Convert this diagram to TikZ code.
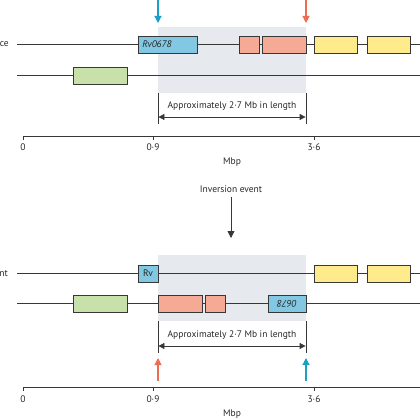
\documentclass[tikz,border=0pt]{standalone}
\usepackage{fontspec}
\setmainfont{PT Sans}
\usetikzlibrary{arrows.meta}
\definecolor{lineg}{RGB}{55,55,55}
\definecolor{shadeg}{RGB}{230,233,237}
\definecolor{geneblue}{RGB}{130,200,226}
\definecolor{geneorange}{RGB}{245,170,150}
\definecolor{geneyellow}{RGB}{255,234,140}
\definecolor{genegreen}{RGB}{200,225,170}
\definecolor{arrblue}{RGB}{25,160,200}
\definecolor{arrorange}{RGB}{235,110,80}
\tikzset{
  gene/.style={draw=lineg, line width=0.7pt, minimum height=17pt, inner sep=0pt},
  chrom/.style={draw=lineg, line width=0.8pt},
  marker/.style={line width=1.2pt, -{Triangle[length=7pt,width=7pt]}},
  dimarrow/.style={draw=lineg, line width=0.8pt, {Triangle[length=6pt,width=6pt]}-{Triangle[length=6pt,width=6pt]}},
  bar/.style={draw=lineg, line width=0.8pt},
  lbl/.style={inner sep=0pt, text=black!85}
}
\begin{document}
\begin{tikzpicture}[x=1pt,y=-1pt,font=\fontsize{9.5}{11}\selectfont]
\useasboundingbox (0,0) rectangle (420,420);
% ---------- top ----------
\fill[shadeg] (158,27) rectangle (306,93);
\coordinate (l1a) at (17,44.5); \coordinate (l1b) at (420,44.5);
\coordinate (l2a) at (17,75.5); \coordinate (l2b) at (420,75.5);
\draw[chrom] (l1a) -- (l1b);
\draw[chrom] (l2a) -- (l2b);
\node[lbl, anchor=east] (ref) at (9,44.5) {ce};
\node[gene, fill=geneblue, minimum width=59pt] (rv) at (167.5,44.5) {};
\node[lbl, anchor=west] (rvt) at ([xshift=4.5pt]rv.west) {\textit{Rv0678}};
\node[gene, fill=geneorange, minimum width=20pt] (o1) at (249,44.5) {};
\node[gene, fill=geneorange, minimum width=44pt] (o2) at (284,44.5) {};
\node[gene, fill=geneyellow, minimum width=43pt] (y1) at (335.5,44.5) {};
\node[gene, fill=geneyellow, minimum width=43pt] (y2) at (388.5,44.5) {};
\node[gene, fill=genegreen, minimum width=54pt] (g1) at (100,75.5) {};
\coordinate (ba1) at (158,0); \coordinate (ba2) at (158,23);
\coordinate (oa1) at (306,0); \coordinate (oa2) at (306,23);
\draw[marker, arrblue] (ba1) -- (ba2);
\draw[marker, arrorange] (oa1) -- (oa2);
\coordinate (v1a) at (158,93); \coordinate (v1b) at (158,124);
\coordinate (v2a) at (306,93); \coordinate (v2b) at (306,124);
\draw[bar] (v1a) -- (v1b);
\draw[bar] (v2a) -- (v2b);
\coordinate (d1a) at (158.4,117); \coordinate (d1b) at (305.6,117);
\draw[dimarrow] (d1a) -- (d1b);
\node[lbl] (len1) at (232,106.5) {Approximately 2·7 Mb in length};
\coordinate (ax1a) at (23,136); \coordinate (ax1b) at (420,136);
\draw[chrom] (ax1a) -- (ax1b);
\foreach \x/\t/\n in {23/0/a, 153/0·9/b, 314/3·6/c}{
  \draw[chrom] (\x,136) -- (\x,140);
  \node[lbl] (t1\n) at (\x,147) {\t};
}
\node[lbl] (mbp1) at (232,162) {Mbp};
% ---------- middle ----------
\node[lbl] (inv) at (231,189) {Inversion event};
\coordinate (invb) at (231,238);
\draw[line width=0.8pt, draw=lineg, -{Triangle[length=7pt,width=7pt]}] ([yshift=-4pt]inv.south) -- (invb);
% ---------- bottom ----------
\fill[shadeg] (158,255) rectangle (306,321);
\coordinate (m1a) at (17,273.5); \coordinate (m1b) at (420,273.5);
\coordinate (m2a) at (17,303.5); \coordinate (m2b) at (420,303.5);
\draw[chrom] (m1a) -- (m1b);
\draw[chrom] (m2a) -- (m2b);
\node[lbl, anchor=east] (mut) at (8,273.5) {nt};
\node[gene, fill=geneblue, minimum width=20pt] (rvb) at (148,273.5) {};
\node[lbl] (rvbt) at (rvb.center) {Rv};
\node[gene, fill=geneyellow, minimum width=43pt] (y3) at (335.5,273.5) {};
\node[gene, fill=geneyellow, minimum width=43pt] (y4) at (388.5,273.5) {};
\node[gene, fill=genegreen, minimum width=54pt] (g2) at (100,303.5) {};
\node[gene, fill=geneorange, minimum width=44pt] (o3) at (180,303.5) {};
\node[gene, fill=geneorange, minimum width=20pt] (o4) at (215,303.5) {};
\node[gene, fill=geneblue, minimum width=38pt] (b2) at (287,303.5) {};
\node[lbl, rotate=180] (b2t) at (b2.center) {\textit{0678}};
\coordinate (w1a) at (158,321); \coordinate (w1b) at (158,353);
\coordinate (w2a) at (306,321); \coordinate (w2b) at (306,353);
\draw[bar] (w1a) -- (w1b);
\draw[bar] (w2a) -- (w2b);
\coordinate (d2a) at (158.4,346); \coordinate (d2b) at (305.6,346);
\draw[dimarrow] (d2a) -- (d2b);
\node[lbl] (len2) at (232,335.5) {Approximately 2·7 Mb in length};
\coordinate (ob1) at (158,381); \coordinate (ob2) at (158,358);
\coordinate (bb1) at (306,381); \coordinate (bb2) at (306,358);
\draw[marker, arrorange] (ob1) -- (ob2);
\draw[marker, arrblue] (bb1) -- (bb2);
\coordinate (ax2a) at (23,387); \coordinate (ax2b) at (420,387);
\draw[chrom] (ax2a) -- (ax2b);
\foreach \x/\t/\n in {23/0/a, 153/0·9/b, 314/3·6/c}{
  \draw[chrom] (\x,387) -- (\x,391);
  \node[lbl] (t2\n) at (\x,399) {\t};
}
\node[lbl] (mbp2) at (232,414) {Mbp};
\end{tikzpicture}
\end{document}
